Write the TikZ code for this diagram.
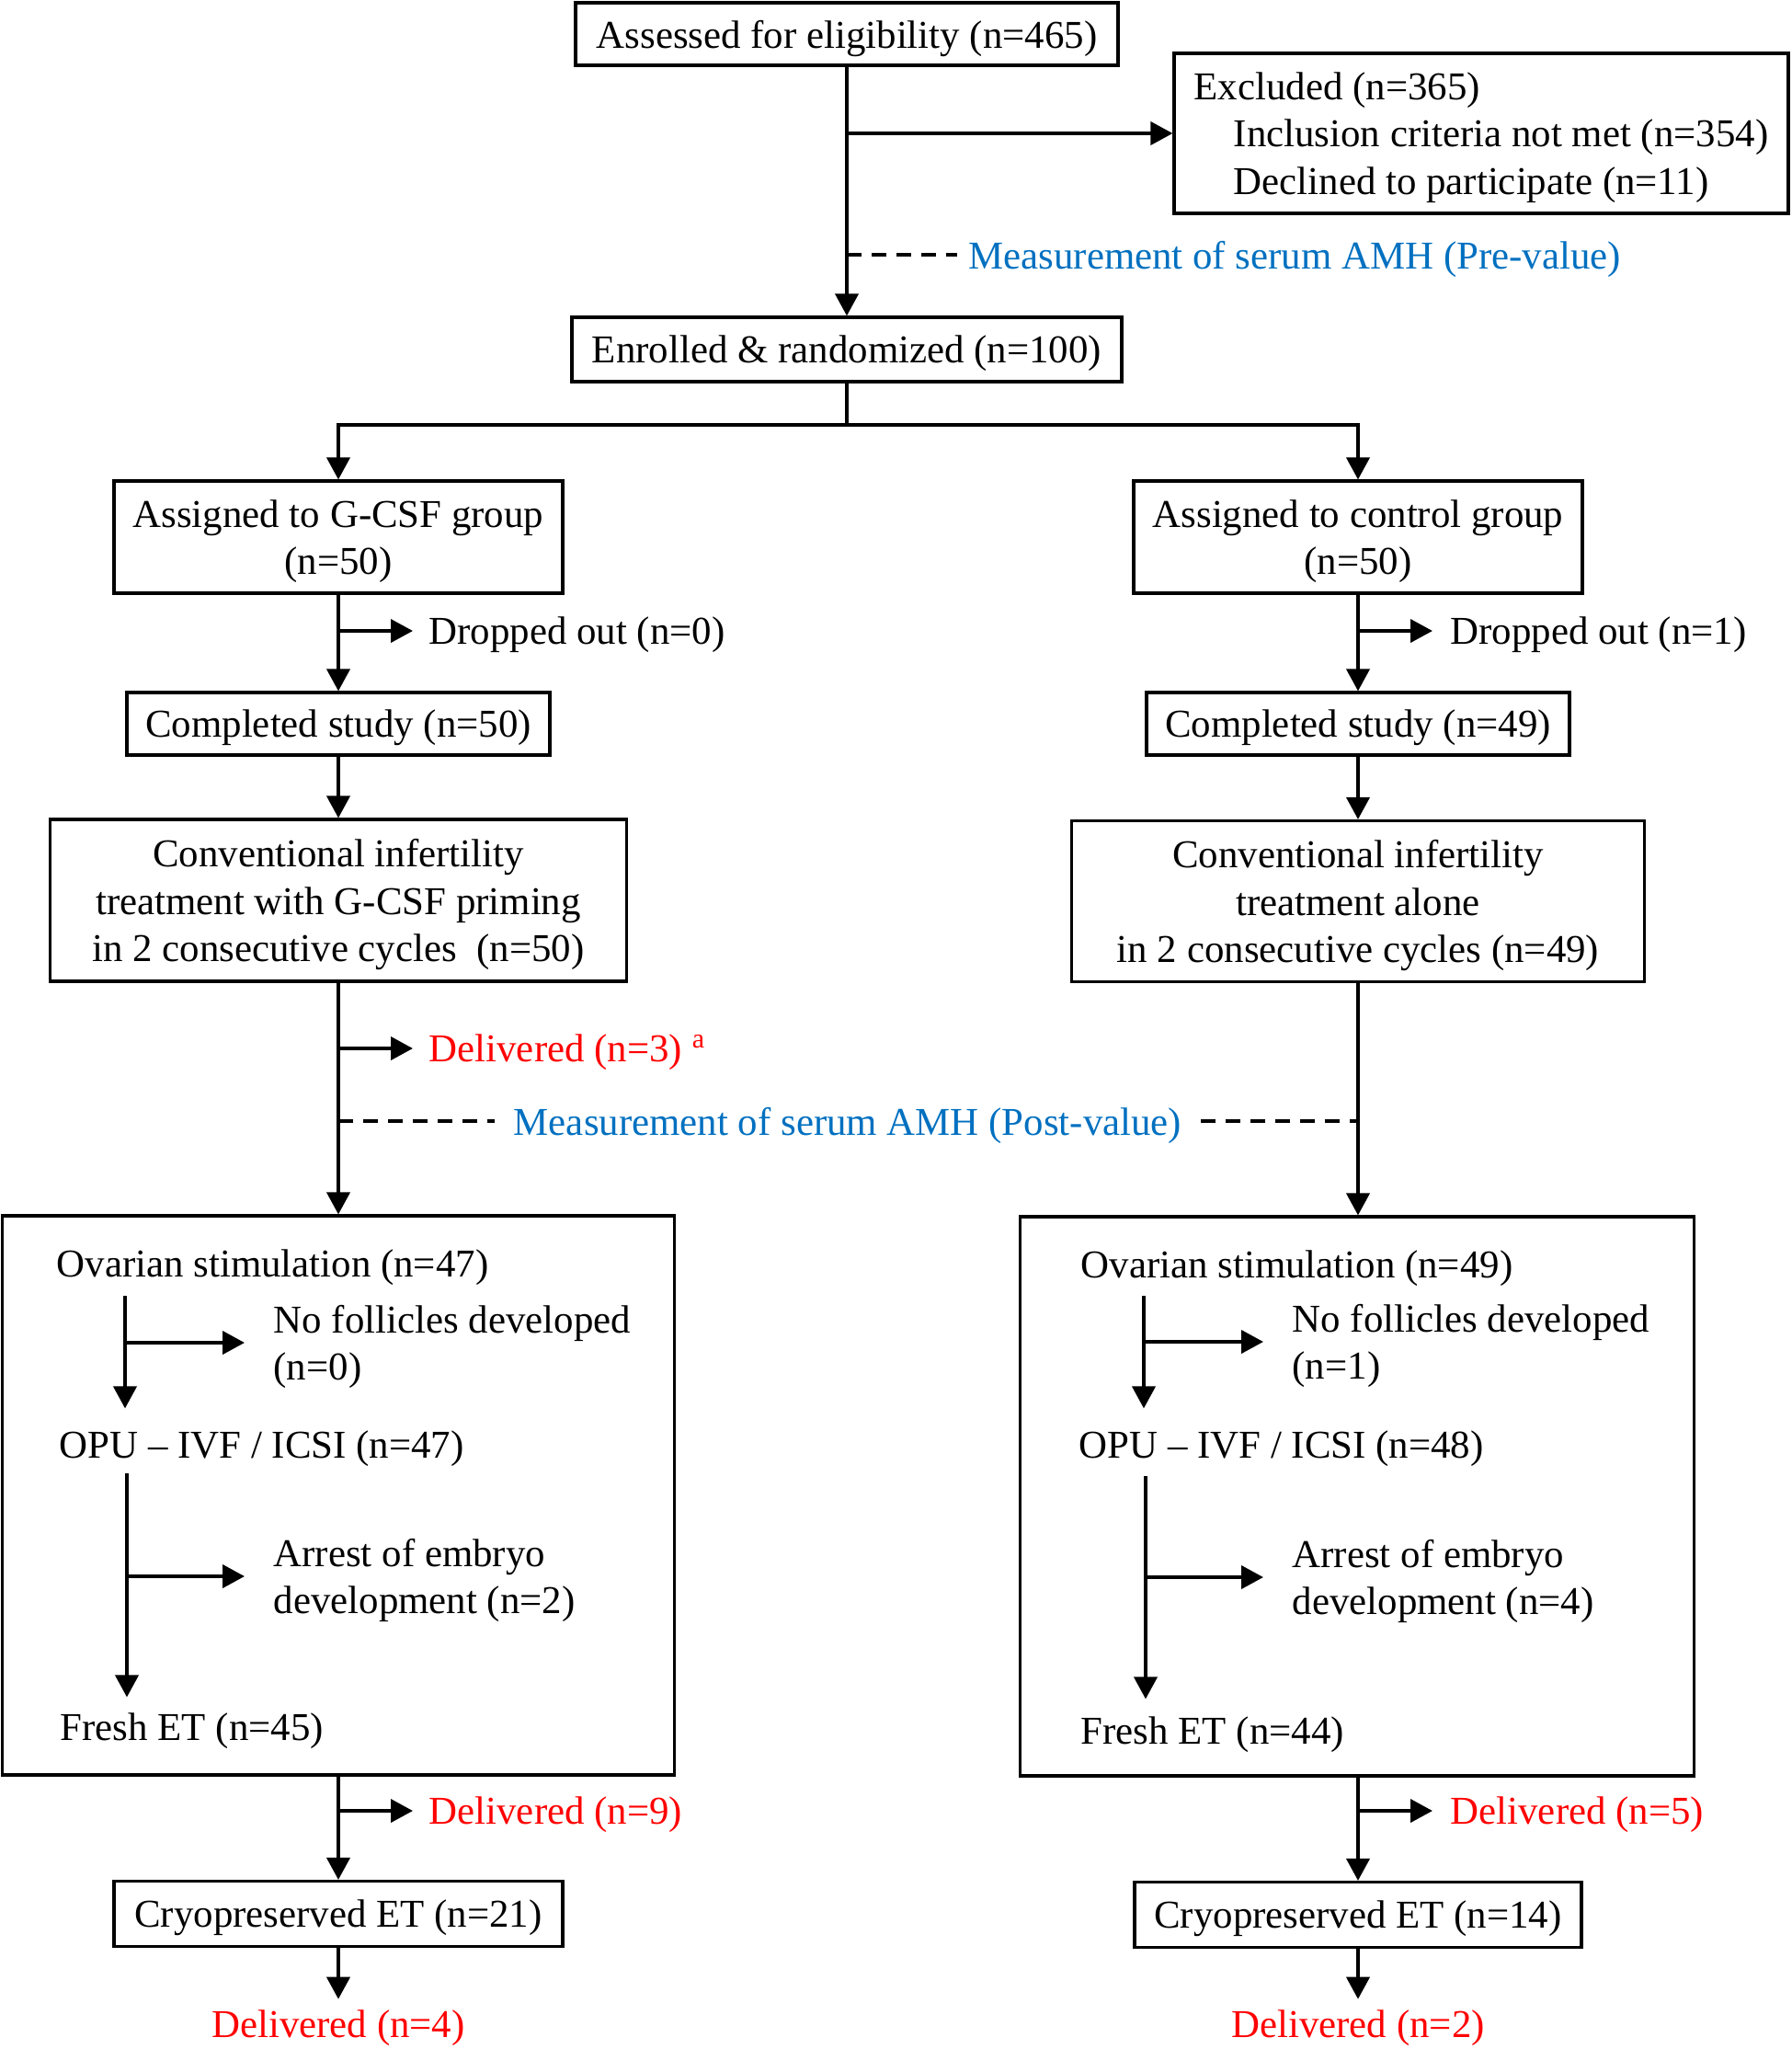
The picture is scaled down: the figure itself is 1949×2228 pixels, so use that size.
\documentclass[tikz,border=0pt]{standalone}
\usepackage{fontspec}
\setmainfont{Liberation Serif}
\usepackage{xcolor}
\usetikzlibrary{arrows.meta}
\definecolor{amhblue}{RGB}{0,112,192}
\definecolor{delred}{RGB}{255,0,0}

\begin{document}
\begin{tikzpicture}[
    x=0.1mm, y=-0.1mm,
    >={Triangle[length=2.4mm,width=2.5mm]},
    every node/.style={font=\fontsize{12.2}{14.7}\selectfont, text depth=-0.6pt},
    box/.style={draw, line width=0.9pt, align=center, inner sep=0pt},
    flow/.style={line width=1.1pt},
    amhdash/.style={line width=1pt, dash pattern=on 1.6mm off 1.1mm},
    sidelabel/.style={anchor=west, align=left, inner xsep=1.7mm, inner ysep=0pt},
    innerside/.style={sidelabel, inner xsep=3.1mm},
    innertext/.style={anchor=west, align=left, inner sep=0pt},
    amh/.style={text=amhblue},
    delivered/.style={text=delred}
]
\useasboundingbox (0,0) rectangle (1949,2228);

\node[box, minimum width=59mm, minimum height=6.8mm](assess) at (921,37){Assessed for eligibility (n=465)};
\node[box, align=left, minimum width=66.8mm, minimum height=17.4mm](excl) at (1611,145){Excluded (n=365)\\\hspace*{4.3mm}Inclusion criteria not met (n=354)\\\hspace*{4.3mm}Declined to participate (n=11)};
\node[amh, anchor=west](pre) at (1041,277){Measurement of serum AMH (Pre-value)};
\node[box, minimum width=59.8mm, minimum height=7mm](enrol) at (921,380){Enrolled \& randomized (n=100)};

\node[box, minimum width=48.8mm, minimum height=12.2mm](gcsf) at (368,584){Assigned to G-CSF group\\(n=50)};
\node[box, minimum width=48.8mm, minimum height=12.2mm](ctrl) at (1477,584){Assigned to control group\\(n=50)};
\node[sidelabel](drop0) at (449,686){Dropped out (n=0)};
\node[sidelabel, inner xsep=1.9mm](drop1) at (1558,686){Dropped out (n=1)};
\node[box, minimum width=46mm, minimum height=6.8mm](comp0) at (368,787){Completed study (n=50)};
\node[box, minimum width=46mm, minimum height=6.8mm](comp1) at (1477,787){Completed study (n=49)};
\node[box, minimum width=62.7mm, minimum height=17.6mm](conv0) at (368,979){Conventional infertility\\treatment with G-CSF priming\\in 2 consecutive cycles~ (n=50)};
\node[box, minimum width=62.3mm, minimum height=17.5mm](conv1) at (1477,980){Conventional infertility\\treatment alone\\in 2 consecutive cycles (n=49)};
\node[sidelabel, delivered](del3) at (449,1140){Delivered (n=3)~\textsuperscript{a}};
\node[amh, inner xsep=2mm](post) at (922,1219){Measurement of serum AMH (Post-value)};

\node[box, text depth=0pt, minimum width=73.1mm, minimum height=60.8mm](ovs0) at (368,1626){};
\node[box, text depth=0pt, minimum width=73.3mm, minimum height=60.8mm](ovs1) at (1476,1627){};
\node[innertext](stim0) at (61,1374){Ovarian stimulation (n=47)};
\node[innerside](nofol0) at (266,1460){No follicles developed\\(n=0)};
\node[innertext](opu0) at (64,1571){OPU – IVF / ICSI (n=47)};
\node[innerside](arrest0) at (266,1714){Arrest of embryo\\development (n=2)};
\node[innertext](fresh0) at (65,1878){Fresh ET (n=45)};
\node[innertext](stim1) at (1175,1375){Ovarian stimulation (n=49)};
\node[innerside](nofol1) at (1374,1459){No follicles developed\\(n=1)};
\node[innertext](opu1) at (1173,1571){OPU – IVF / ICSI (n=48)};
\node[innerside](arrest1) at (1374,1715){Arrest of embryo\\development (n=4)};
\node[innertext](fresh1) at (1175,1882){Fresh ET (n=44)};
\coordinate (stem0a) at (136,1409);
\coordinate (stem0b) at (138,1602);
\coordinate (stem1a) at (1244,1409);
\coordinate (stem1b) at (1246,1605);

\node[sidelabel, delivered](del9) at (449,1969){Delivered (n=9)};
\node[sidelabel, delivered, inner xsep=1.9mm](del5) at (1558,1969){Delivered (n=5)};
\node[box, minimum width=48.8mm, minimum height=7.1mm](cryo0) at (368,2081){Cryopreserved ET (n=21)};
\node[box, minimum width=48.6mm, minimum height=7.1mm](cryo1) at (1477,2082){Cryopreserved ET (n=14)};
\node[delivered](del4) at (368,2201){Delivered (n=4)};
\node[delivered](del2) at (1477,2201){Delivered (n=2)};

\draw[flow,->] (assess) -- (enrol);
\draw[flow,->] (excl.west -| assess) -- (excl.west);
\draw[amhdash] (pre.west -| assess) -- (pre.west);
\draw[flow,->] (enrol.south) -- ++(0,45) -| (gcsf.north);
\draw[flow,->] (enrol.south) -- ++(0,45) -| (ctrl.north);

\draw[flow,->] (gcsf) -- (comp0);
\draw[flow,->] (drop0.west -| gcsf) -- (drop0.west);
\draw[flow,->] (comp0) -- (conv0);
\draw[flow,->] (conv0) -- (ovs0);
\draw[flow,->] (del3.west -| conv0) -- (del3.west);
\draw[amhdash] (post.west -| conv0) -- (post.west);
\draw[flow,->] (stem0a) -- ([yshift=2.4mm]stem0a |- opu0.north);
\draw[flow,->] (nofol0.west -| stem0a) -- (nofol0.west);
\draw[flow,->] (stem0b) -- ([yshift=1.7mm]stem0b |- fresh0.north);
\draw[flow,->] (arrest0.west -| stem0b) -- (arrest0.west);
\draw[flow,->] (ovs0) -- (cryo0);
\draw[flow,->] (del9.west -| ovs0) -- (del9.west);
\draw[flow,->] (cryo0) -- (del4);

\draw[flow,->] (ctrl) -- (comp1);
\draw[flow,->] (drop1.west -| ctrl) -- (drop1.west);
\draw[flow,->] (comp1) -- (conv1);
\draw[flow,->] (conv1) -- (conv1 |- ovs1.north);
\draw[amhdash] (post.east) -- (post.east -| conv1);
\draw[flow,->] (stem1a) -- ([yshift=2.4mm]stem1a |- opu1.north);
\draw[flow,->] (nofol1.west -| stem1a) -- (nofol1.west);
\draw[flow,->] (stem1b) -- ([yshift=1.9mm]stem1b |- fresh1.north);
\draw[flow,->] (arrest1.west -| stem1b) -- (arrest1.west);
\draw[flow,->] (ovs1.south -| cryo1) -- (cryo1);
\draw[flow,->] (del5.west -| cryo1) -- (del5.west);
\draw[flow,->] (cryo1) -- (del2);
\end{tikzpicture}
\end{document}
